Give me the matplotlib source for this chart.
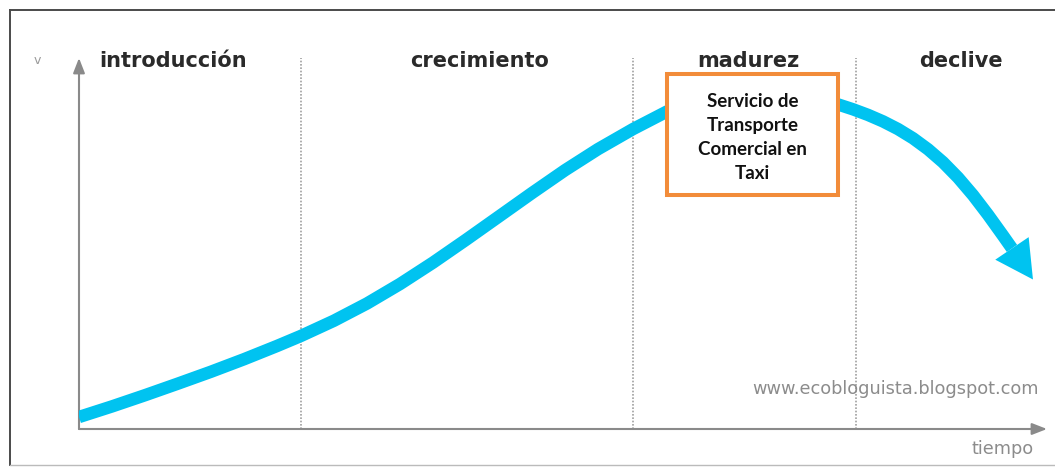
import matplotlib
matplotlib.use("Agg")
import matplotlib.pyplot as plt
from matplotlib.patches import Rectangle
from matplotlib.lines import Line2D

# ---- data (arbitrary 0-100 scales) ----
tiempo = [0.00, 3.41, 6.82, 10.23, 13.64, 17.05, 20.45, 22.93, 26.34, 29.75,
          33.16, 36.57, 39.98, 43.39, 46.80, 50.21, 53.62, 57.23, 60.74,
          64.15, 67.56, 70.97, 74.38, 78.41, 79.96, 81.51, 83.06, 84.61,
          86.16, 87.71, 89.26, 90.81, 92.36, 93.90, 95.45, 96.38, 98.55]
ventas = [3.23, 6.09, 9.11, 12.24, 15.44, 18.81, 22.37, 25.09, 29.19, 33.83,
          39.08, 44.85, 51.00, 57.30, 63.61, 69.76, 75.44, 80.84, 85.58,
          88.79, 90.57, 91.02, 90.13, 87.49, 86.17, 84.66, 82.91, 80.84,
          78.36, 75.39, 71.89, 67.76, 63.02, 57.76, 52.13, 48.68, 40.30]
etapas = ["introducción", "crecimiento", "madurez", "declive"]
limites_etapas = [22.9, 57.2, 80.3]
texto_caja = "Servicio de\nTransporte\nComercial en\nTaxi"
marca = "www.ecobloguista.blogspot.com"
etiqueta_x = "tiempo"
etiqueta_y = "v"

W, H = 1055, 467
fig = plt.figure(figsize=(W / 100, H / 100), dpi=100)
fig.patch.set_facecolor("white")

# axes box: x from px 79 to 1047, y from px 429 (bottom) to 58 (top)
ax = fig.add_axes([79 / W, 1 - 429 / H, (1047 - 79) / W, (429 - 58) / H])
ax.set_xlim(0, 100)
ax.set_ylim(0, 100)
ax.axis("off")

axis_col = "#8a8a8a"
# axis arrows
ax.annotate("", xy=(0, 100), xytext=(0, 0),
            arrowprops=dict(arrowstyle="-|>,head_length=0.9,head_width=0.35",
                            color=axis_col, lw=1.5, shrinkA=0, shrinkB=0),
            annotation_clip=False)
ax.annotate("", xy=(100, 0), xytext=(0, 0),
            arrowprops=dict(arrowstyle="-|>,head_length=0.9,head_width=0.35",
                            color=axis_col, lw=1.5, shrinkA=0, shrinkB=0),
            annotation_clip=False)

# stage separators
for xb in limites_etapas:
    ax.plot([xb, xb], [0, 100], color="#a0a0a0", lw=1.2,
            linestyle=(0, (1, 1)), zorder=1)

# stage labels
label_x = [9.7, 41.4, 69.2, 91.1]
for name, xl in zip(etapas, label_x):
    ax.text(xl, 99.3, name, ha="center", va="center", fontsize=15,
            fontweight="bold", color="#2a2a2a", family="DejaVu Sans",
            clip_on=False, zorder=5)

# life-cycle curve
curve_col = "#00c3f0"
ax.plot(tiempo[:-1], ventas[:-1], color=curve_col, lw=9,
        solid_capstyle="butt", solid_joinstyle="round", zorder=3)
ax.annotate("", xy=(tiempo[-1], ventas[-1]), xytext=(tiempo[-2], ventas[-2]),
            arrowprops=dict(arrowstyle="-|>,head_length=2.7,head_width=1.45",
                            mutation_scale=10, color=curve_col, lw=0,
                            shrinkA=0, shrinkB=0),
            annotation_clip=False, zorder=3)

# highlighted box
ax.add_patch(Rectangle((60.7, 63.1), 78.4 - 60.7, 95.7 - 63.1,
                       facecolor="white", edgecolor="#f28c3a", lw=2.9,
                       zorder=6, clip_on=False))
ax.text(69.6, 78.6, texto_caja, ha="center", va="center", fontsize=13.5,
        fontweight="bold", color="#111111", family="Lato",
        linespacing=1.5, zorder=7)

# watermark & axis labels
ax.text(99.1, 10.8, marca, ha="right", va="center", fontsize=12.8,
        color="#8c8c8c", family="DejaVu Sans", zorder=5)
ax.text(98.6, -5.4, etiqueta_x, ha="right", va="center", fontsize=12.8,
        color="#8c8c8c", family="DejaVu Sans", clip_on=False)
ax.text(-4.3, 99.3, etiqueta_y, ha="center", va="center", fontsize=9,
        color="#9a9a9a", family="DejaVu Sans", clip_on=False)

# outer frame of the image
fcol = "#4a4a4a"
x0 = 10 / W
ytop = 1 - 10 / H
ybot = 1 - 465 / H
fig.add_artist(Line2D([x0, x0], [ybot, ytop], color=fcol, lw=1.4))
fig.add_artist(Line2D([x0, 1], [ytop, ytop], color=fcol, lw=1.4))
fig.add_artist(Line2D([x0, 1], [ybot, ybot], color="#bbbbbb", lw=1.0))

fig.savefig("out.png", dpi=100, facecolor="white")
